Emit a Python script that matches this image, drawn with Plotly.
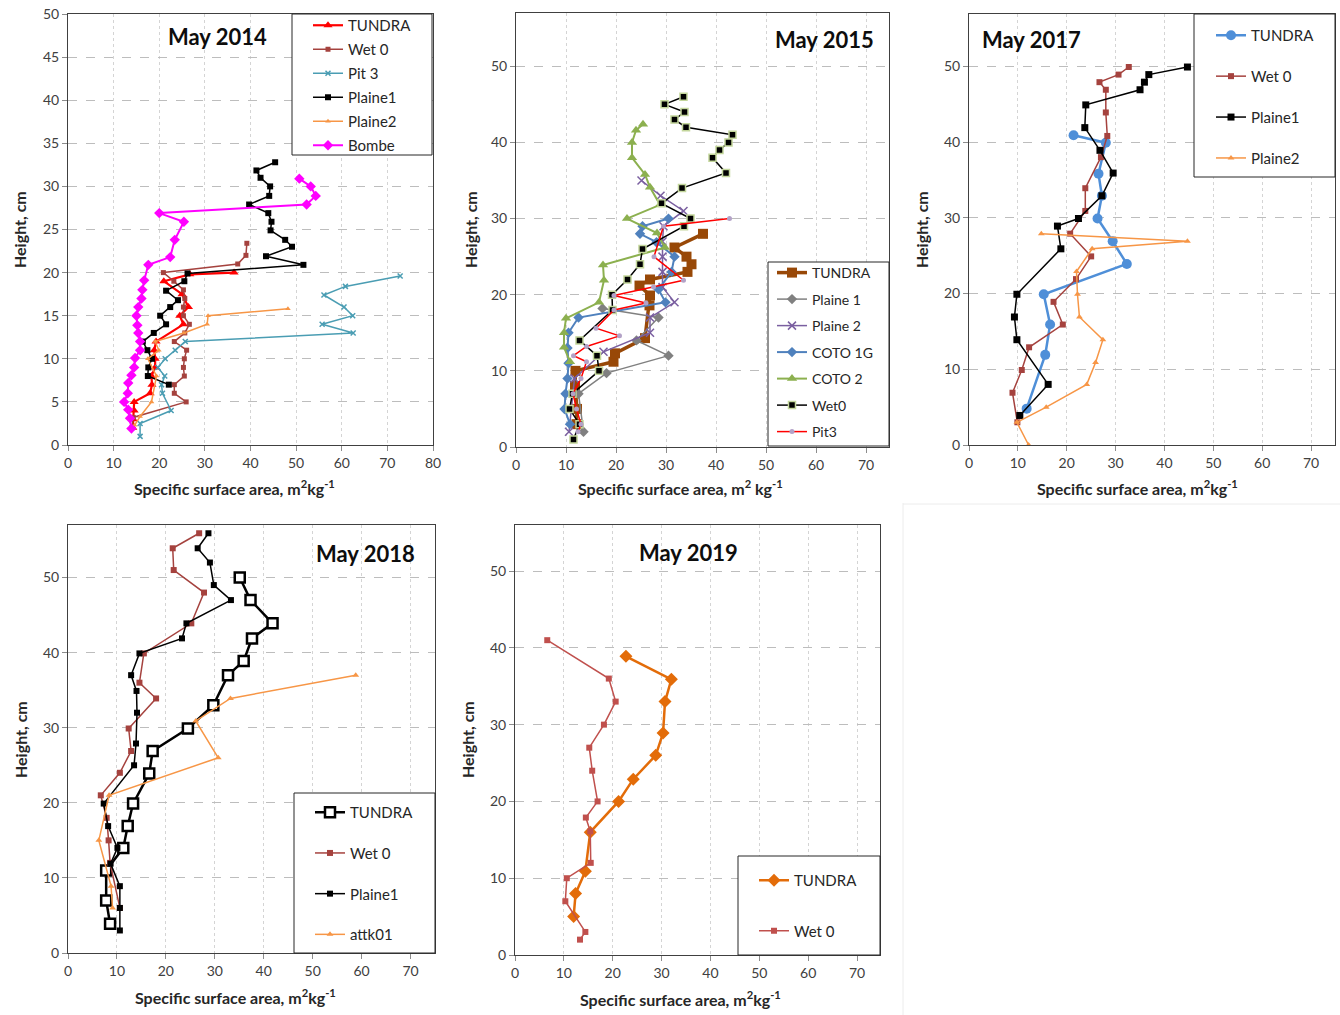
import plotly.graph_objects as go

W, H = 1340, 1015
FONT = "Lato"

# ---------------- May 2014 ----------------
p14_tundra_x = [14.2, 14.3, 14.5, 14.5, 18.0, 18.4, 18.3, 19.1, 19.1, 18.9, 19.3, 25.3, 24.5, 26.4, 25.0, 21.0, 26.7, 36.4]
p14_tundra_y = [2, 3, 4, 5, 6, 7, 8, 9, 10, 11, 12, 14, 15, 16, 17.5, 19, 19.8, 20]
p14_wet0_x = [14.0, 14.3, 25.9, 23.3, 23.3, 25.5, 25.3, 25.5, 26.0, 23.3, 25.6, 26.6, 25.3, 25.3, 25.6, 25.3, 23.2, 20.9, 37.2, 39.0, 39.2]
p14_wet0_y = [2, 3.2, 5, 6, 7, 8, 9, 10, 11, 12, 13, 14, 15, 16, 17, 18, 19, 20, 21, 22, 23.4]
p14_pit3_x = [15.8, 15.8, 22.6, 20.7, 20.5, 21.2, 19.7, 21.3, 23.5, 25.7, 62.5, 55.7, 62.4, 60.5, 56.1, 60.8, 72.8]
p14_pit3_y = [1, 2.5, 4, 6, 7, 8, 9, 10, 11, 12, 13, 14, 15, 16, 17.4, 18.4, 19.6]
p14_plaine1_x = [22.1, 17.5, 17.6, 18.4, 17.4, 16.4, 18.8, 21.5, 20.2, 22.4, 24.1, 21.5, 25.5, 26.2, 51.6, 43.4, 49.1, 47.6, 44.4, 44.6, 43.9, 39.7, 44.1, 44.3, 42.2, 41.3, 45.4]
p14_plaine1_y = [7, 8, 9, 10, 11, 12, 13, 14, 15, 16, 16.8, 17.9, 19, 19.9, 20.9, 21.9, 23, 23.8, 24.9, 25.9, 26.9, 27.9, 28.9, 30, 31, 31.85, 32.8]
p14_plaine2_x = [14.6, 15.8, 18.3, 19.4, 17.5, 19.9, 19.1, 25.4, 30.5, 30.7, 48.2]
p14_plaine2_y = [2.3, 3.3, 5, 8, 10, 11, 12, 13, 14, 15, 15.8]
p14_bombe_x = [13.9, 13.6, 13.2, 12.3, 13.1, 13.2, 13.9, 14.5, 14.7, 15.8, 15.8, 15.4, 15.2, 15.0, 15.4, 16.1, 16.3, 16.7, 17.6, 22.4, 23.4, 25.4, 20.0, 52.3, 54.3, 53.2, 50.7]
p14_bombe_y = [1.9, 3.1, 4.1, 5, 6, 7.2, 8.1, 9, 10.1, 11, 12, 13, 13.9, 15, 16, 17, 18, 19.1, 20.9, 21.8, 23.8, 25.9, 26.9, 27.9, 28.9, 30, 30.9]

# ---------------- May 2015 ----------------
p15_tundra_x = [12.1, 12.2, 11.8, 11.9, 19.5, 19.8, 25.8, 26.7, 26.8, 24.7, 26.8, 34.3, 35.1, 34.1, 31.7, 37.4]
p15_tundra_y = [3, 5, 8, 10, 11.2, 12.3, 14.3, 18.6, 19.9, 21.2, 22, 23, 24, 25, 26.2, 28]
p15_plaine1_x = [13.5, 12.5, 18.1, 30.5, 24.1, 28.5, 17.3]
p15_plaine1_y = [2, 7, 9.7, 12, 14, 17, 18.2]
p15_plaine2_x = [10.6, 11.7, 17.5, 26.8, 26.8, 31.7, 29.3, 29.3, 29.3, 29.3, 29.5, 33.5, 28.9, 25.1]
p15_plaine2_y = [2, 9, 12.5, 15, 17, 19, 21, 23, 25, 27, 29, 31, 33, 35]
p15_coto1g_x = [10.8, 9.7, 9.9, 10.3, 10.5, 10.3, 10.5, 12.5, 29.9, 28.5, 31.1, 31.7, 28.1, 24.8, 25.3, 30.5]
p15_coto1g_y = [3, 5, 7, 9, 11, 13, 15, 17, 19, 20.7, 23, 25, 26.9, 28, 29, 30]
p15_coto2_x = [10.8, 9.6, 9.6, 10.0, 16.6, 17.6, 17.4, 29.8, 28.2, 22.2, 28.8, 26.8, 25.8, 23.2, 23.2, 24.0, 25.4]
p15_coto2_y = [11.2, 13.1, 15, 16.9, 19, 21.9, 23.9, 26.2, 28.1, 30, 31.8, 34.1, 35.8, 38, 40, 41.6, 42.4]
p15_wet0_x = [11.5, 12.7, 10.7, 11.3, 16.6, 16.2, 12.7, 19.3, 19.2, 22.3, 24.8, 25.3, 33.6, 34.9, 29.1, 33.2, 42.0, 39.3, 40.7, 42.5, 43.3, 34.0, 31.7, 33.7, 29.7, 33.5]
p15_wet0_y = [1, 3, 5, 7, 10, 12, 14, 18, 20, 22, 24, 26, 29, 30, 32, 34, 36, 38, 39, 40, 41, 42, 43, 44, 45, 46]
p15_pit3_x = [12.4, 13.0, 12.1, 11.4, 13.0, 14.1, 11.5, 14.1, 20.7, 16.0, 19.6, 26.0, 19.6, 27.5, 33.5, 27.6, 29.5, 42.7]
p15_pit3_y = [2, 3, 5, 7, 9, 11.2, 12, 13.2, 14.6, 15.6, 18, 18.9, 19.9, 21, 21.9, 25, 29, 30]

# ---------------- May 2017 ----------------
p17_tundra_x = [11.8, 15.6, 16.6, 15.3, 32.3, 29.4, 26.3, 27.2, 26.5, 28.0, 21.4]
p17_tundra_y = [4.8, 11.9, 15.9, 19.9, 23.9, 26.9, 29.9, 32.9, 35.8, 39.9, 40.9]
p17_wet0_x = [9.9, 8.9, 10.8, 12.3, 19.2, 17.3, 21.9, 25.0, 20.7, 23.8, 23.8, 27.0, 28.3, 28.0, 28.0, 26.7, 30.6, 32.7]
p17_wet0_y = [3.0, 6.9, 9.9, 12.9, 15.9, 18.9, 21.9, 24.9, 27.9, 30.9, 33.9, 38.0, 40.8, 43.9, 46.9, 47.9, 48.9, 49.9]
p17_plaine1_x = [10.4, 16.2, 9.8, 9.3, 9.8, 18.8, 18.1, 22.4, 27.2, 29.5, 26.8, 23.7, 23.9, 35.0, 35.9, 36.8, 44.7]
p17_plaine1_y = [3.9, 8.0, 13.9, 16.9, 19.9, 25.9, 28.9, 29.9, 32.9, 35.9, 38.9, 41.9, 44.9, 46.9, 47.9, 48.9, 49.9]
p17_plaine2_x = [12.2, 9.8, 15.8, 24.1, 25.9, 27.4, 22.6, 22.2, 22.0, 25.2, 44.7, 14.8]
p17_plaine2_y = [0, 3.0, 5.0, 8.0, 10.9, 13.9, 16.9, 19.9, 22.9, 25.9, 26.9, 27.9]

# ---------------- May 2018 ----------------
p18_tundra_x = [8.6, 7.8, 7.8, 11.3, 12.2, 13.3, 16.6, 17.3, 24.5, 29.7, 32.7, 35.9, 37.6, 41.8, 37.3, 35.1]
p18_tundra_y = [3.9, 7, 11, 14, 16.9, 19.9, 23.9, 26.9, 29.9, 33, 37, 38.9, 41.9, 43.9, 47, 50]
p18_wet0_x = [10.6, 8.6, 8.3, 7.9, 6.7, 10.6, 12.9, 12.4, 18.0, 14.6, 15.5, 25.2, 27.8, 21.6, 21.4, 26.8]
p18_wet0_y = [6, 12, 15, 18, 21, 24, 26.9, 29.9, 33.9, 36, 39.9, 43.9, 48, 51, 53.9, 55.9]
p18_plaine1_x = [10.6, 10.6, 10.6, 8.7, 10.1, 8.2, 7.3, 13.5, 13.9, 14.1, 14.0, 12.9, 14.6, 23.3, 24.2, 33.3, 29.8, 29.0, 26.5, 28.7]
p18_plaine1_y = [3, 6, 8.9, 11.9, 14, 16.9, 19.9, 25, 27.9, 32, 34.9, 37, 39.9, 41.9, 43.9, 47, 49, 52, 53.9, 55.9]
p18_attk01_x = [9.1, 8.8, 6.3, 8.4, 30.7, 26.1, 33.2, 58.8]
p18_attk01_y = [6, 8.9, 15, 21, 26, 30.9, 33.9, 37]

# ---------------- May 2019 ----------------
p19_tundra_x = [12.0, 12.4, 14.4, 15.4, 21.2, 24.2, 28.8, 30.3, 30.7, 32.0, 22.7]
p19_tundra_y = [5.0, 8.0, 10.9, 16.0, 20.0, 22.9, 26.0, 28.9, 33.0, 35.9, 38.9]
p19_wet0_x = [13.3, 14.4, 10.3, 10.6, 15.5, 15.4, 14.5, 16.9, 15.8, 15.2, 18.2, 20.6, 19.2, 6.6]
p19_wet0_y = [2.0, 3.0, 7.0, 10.0, 12.0, 16.1, 17.9, 20.0, 24.0, 27.0, 30.0, 33.0, 36.0, 41.0]

fig = go.Figure()


def add(xs, ys, name, axis, legend, color, width, symbol, size,
        mfill=None, mline_color=None, mline_width=0, group=None):
    fig.add_trace(go.Scatter(
        x=xs, y=ys, mode="lines+markers", name=name,
        xaxis="x" + axis, yaxis="y" + axis, legend=legend,
        legendgroup=group or (legend + name),
        line=dict(color=color, width=width),
        marker=dict(symbol=symbol, size=size,
                    color=mfill if mfill is not None else color,
                    line=dict(color=mline_color or color, width=mline_width)),
    ))


RED = "#ff0000"
BROWN = "#a5423e"
TEAL = "#4a9db3"
ORANGE = "#f79646"
MAGENTA = "#ff00ff"

# 2014
add(p14_tundra_x, p14_tundra_y, "TUNDRA", "", "legend", RED, 2.2, "triangle-up", 8)
add(p14_wet0_x, p14_wet0_y, "Wet 0", "", "legend", BROWN, 1.5, "square", 5)
add(p14_pit3_x, p14_pit3_y, "Pit 3", "", "legend", TEAL, 1.5, "x-thin", 5, mline_width=1.5)
add(p14_plaine1_x, p14_plaine1_y, "Plaine1", "", "legend", "#000000", 1.5, "square", 6)
add(p14_plaine2_x, p14_plaine2_y, "Plaine2", "", "legend", ORANGE, 1.5, "triangle-up", 5)
add(p14_bombe_x, p14_bombe_y, "Bombe", "", "legend", MAGENTA, 2, "diamond", 8)

# 2015
add(p15_tundra_x, p15_tundra_y, "TUNDRA", "2", "legend2", "#984807", 3.5, "square", 10)
add(p15_plaine1_x, p15_plaine1_y, "Plaine 1", "2", "legend2", "#808080", 1.5, "diamond", 8)
add(p15_plaine2_x, p15_plaine2_y, "Plaine 2", "2", "legend2", "#7a5fa0", 1.5, "x-thin", 8, mline_width=1.5)
add(p15_coto1g_x, p15_coto1g_y, "COTO 1G", "2", "legend2", "#4f81bd", 2, "diamond", 8)
add(p15_coto2_x, p15_coto2_y, "COTO 2", "2", "legend2", "#8cb04f", 2, "triangle-up", 9)
add(p15_wet0_x, p15_wet0_y, "Wet0", "2", "legend2", "#000000", 1.5, "square", 7,
    mfill="#000000", mline_color="#c3d69b", mline_width=1.5)
add(p15_pit3_x, p15_pit3_y, "Pit3", "2", "legend2", RED, 1.5, "circle", 5,
    mfill="#b3a2c7", mline_color="#b3a2c7")

# 2017
add(p17_tundra_x, p17_tundra_y, "TUNDRA", "3", "legend3", "#4f8fd8", 2.5, "circle", 10)
add(p17_wet0_x, p17_wet0_y, "Wet 0", "3", "legend3", BROWN, 1.5, "square", 6)
add(p17_plaine1_x, p17_plaine1_y, "Plaine1", "3", "legend3", "#000000", 1.5, "square", 7)
add(p17_plaine2_x, p17_plaine2_y, "Plaine2", "3", "legend3", ORANGE, 1.5, "triangle-up", 6)

# 2018
add(p18_tundra_x, p18_tundra_y, "TUNDRA", "4", "legend4", "#000000", 2.5, "square", 10,
    mfill="#ffffff", mline_color="#000000", mline_width=2.5)
add(p18_wet0_x, p18_wet0_y, "Wet 0", "4", "legend4", BROWN, 1.5, "square", 6)
add(p18_plaine1_x, p18_plaine1_y, "Plaine1", "4", "legend4", "#000000", 1.5, "square", 6)
add(p18_attk01_x, p18_attk01_y, "attk01", "4", "legend4", ORANGE, 1.5, "triangle-up", 6)

# 2019
add(p19_tundra_x, p19_tundra_y, "TUNDRA", "5", "legend5", "#e36c09", 2.5, "diamond", 10)
add(p19_wet0_x, p19_wet0_y, "Wet 0", "5", "legend5", "#c0504d", 1.5, "square", 6)


def px(x):
    return x / W


def py(y):
    return 1 - y / H


def xaxis(dom, rng, anchor):
    return dict(domain=[px(dom[0]), px(dom[1])], range=rng, anchor=anchor, automargin=False,
                tick0=0, dtick=10, showgrid=True, gridcolor="#d4d4d4", griddash="dot",
                gridwidth=1, showline=True, linecolor="#404040", linewidth=1, mirror=True,
                ticks="outside", ticklen=5, tickcolor="#8c8c8c", zeroline=False,
                tickfont=dict(family=FONT, size=14, color="#404040"))


def yaxis(dom, rng, anchor, dtick):
    return dict(domain=[py(dom[1]), py(dom[0])], range=rng, anchor=anchor, automargin=False,
                tick0=0, dtick=dtick, showgrid=True, gridcolor="#bdbdbd", griddash="dash",
                gridwidth=1, showline=True, linecolor="#404040", linewidth=1, mirror=True,
                ticks="outside", ticklen=5, tickcolor="#8c8c8c", zeroline=False,
                tickfont=dict(family=FONT, size=14, color="#404040"))


panels = {
    "": ((68, 433), (14, 445), [0, 80], [0, 50], 5),
    "2": ((516, 889), (13, 447), [0, 74.6], [0, 57], 10),
    "3": ((969, 1335), (14, 445), [0, 74.9], [0, 56.9], 10),
    "4": ((68, 435), (525, 953), [0, 75], [0, 57], 10),
    "5": ((515, 880), (525, 955), [0, 74.7], [0, 56], 10),
}

layout = dict(width=W, height=H, margin=dict(l=0, r=0, t=0, b=0, autoexpand=False),
              paper_bgcolor="white", plot_bgcolor="white",
              font=dict(family=FONT, color="#262626"))
for k, (xd, yd, xr, yr, dt) in panels.items():
    layout["xaxis" + k] = xaxis(xd, xr, "y" + k)
    layout["yaxis" + k] = yaxis(yd, yr, "x" + k, dt)

# legends: (left px, top px, font size, group gap)
leg_specs = {
    "legend": (308, 9, 15, 1.5),
    "legend2": (772, 257, 14, 5.3),
    "legend3": (1211, 19, 15, 18.4),
    "legend4": (310, 796, 15, 18.2),
    "legend5": (754, 864, 15, 28),
}
for name, (lx, ly, fs, gap) in leg_specs.items():
    layout[name] = dict(x=px(lx), y=py(ly), xanchor="left", yanchor="top",
                        xref="paper", yref="paper",
                        bgcolor="rgba(0,0,0,0)", borderwidth=0,
                        font=dict(family=FONT, size=fs, color="#262626"),
                        traceorder="grouped", tracegroupgap=gap, itemwidth=30)

shapes = []
# legend boxes
for (x0, x1, y0, y1) in [(292, 432, 14, 155), (768, 889, 262, 446), (1194, 1335, 14, 177),
                         (294, 435, 793, 953), (738, 880, 856, 955)]:
    shapes.append(dict(type="rect", xref="paper", yref="paper", x0=px(x0), x1=px(x1),
                       y0=py(y1), y1=py(y0), line=dict(color="#262626", width=1),
                       fillcolor="white", layer="above"))
# faint frame of empty region
shapes.append(dict(type="line", xref="paper", yref="paper", x0=px(903), x1=px(903),
                   y0=py(1015), y1=py(503), line=dict(color="#ececec", width=1)))
shapes.append(dict(type="line", xref="paper", yref="paper", x0=px(903), x1=px(1340),
                   y0=py(504), y1=py(504), line=dict(color="#ececec", width=1)))
layout["shapes"] = shapes

XT = "<b>Specific surface area, m<sup>2</sup>kg<sup>-1</sup></b>"
XT2 = "<b>Specific surface area, m<sup>2</sup> kg<sup>-1</sup></b>"
YT = "<b>Height, cm</b>"
ann = []
for (t, x, y) in [("May 2014", 217, 36), ("May 2015", 825, 40), ("May 2017", 1031, 40),
                  ("May 2018", 365, 553), ("May 2019", 688, 552)]:
    ann.append(dict(text="<b>%s</b>" % t, x=px(x), y=py(y), xref="paper", yref="paper",
                    showarrow=False, xanchor="center", yanchor="middle",
                    font=dict(family=FONT, size=22, color="#0d0d0d")))
for (t, x, y) in [(XT, 234, 488), (XT2, 680, 488), (XT, 1137, 488), (XT, 235, 996), (XT, 681, 998)]:
    ann.append(dict(text=t, x=px(x), y=py(y), xref="paper", yref="paper", showarrow=False,
                    xanchor="center", yanchor="middle",
                    font=dict(family=FONT, size=16, color="#262626")))
for (x, y) in [(20, 230), (471, 230), (922, 230), (20, 740), (467, 740)]:
    ann.append(dict(text=YT, x=px(x), y=py(y), xref="paper", yref="paper", showarrow=False,
                    xanchor="center", yanchor="middle", textangle=-90,
                    font=dict(family=FONT, size=16, color="#262626")))
layout["annotations"] = ann

fig.update_layout(**layout)
fig.write_html("out.html")
